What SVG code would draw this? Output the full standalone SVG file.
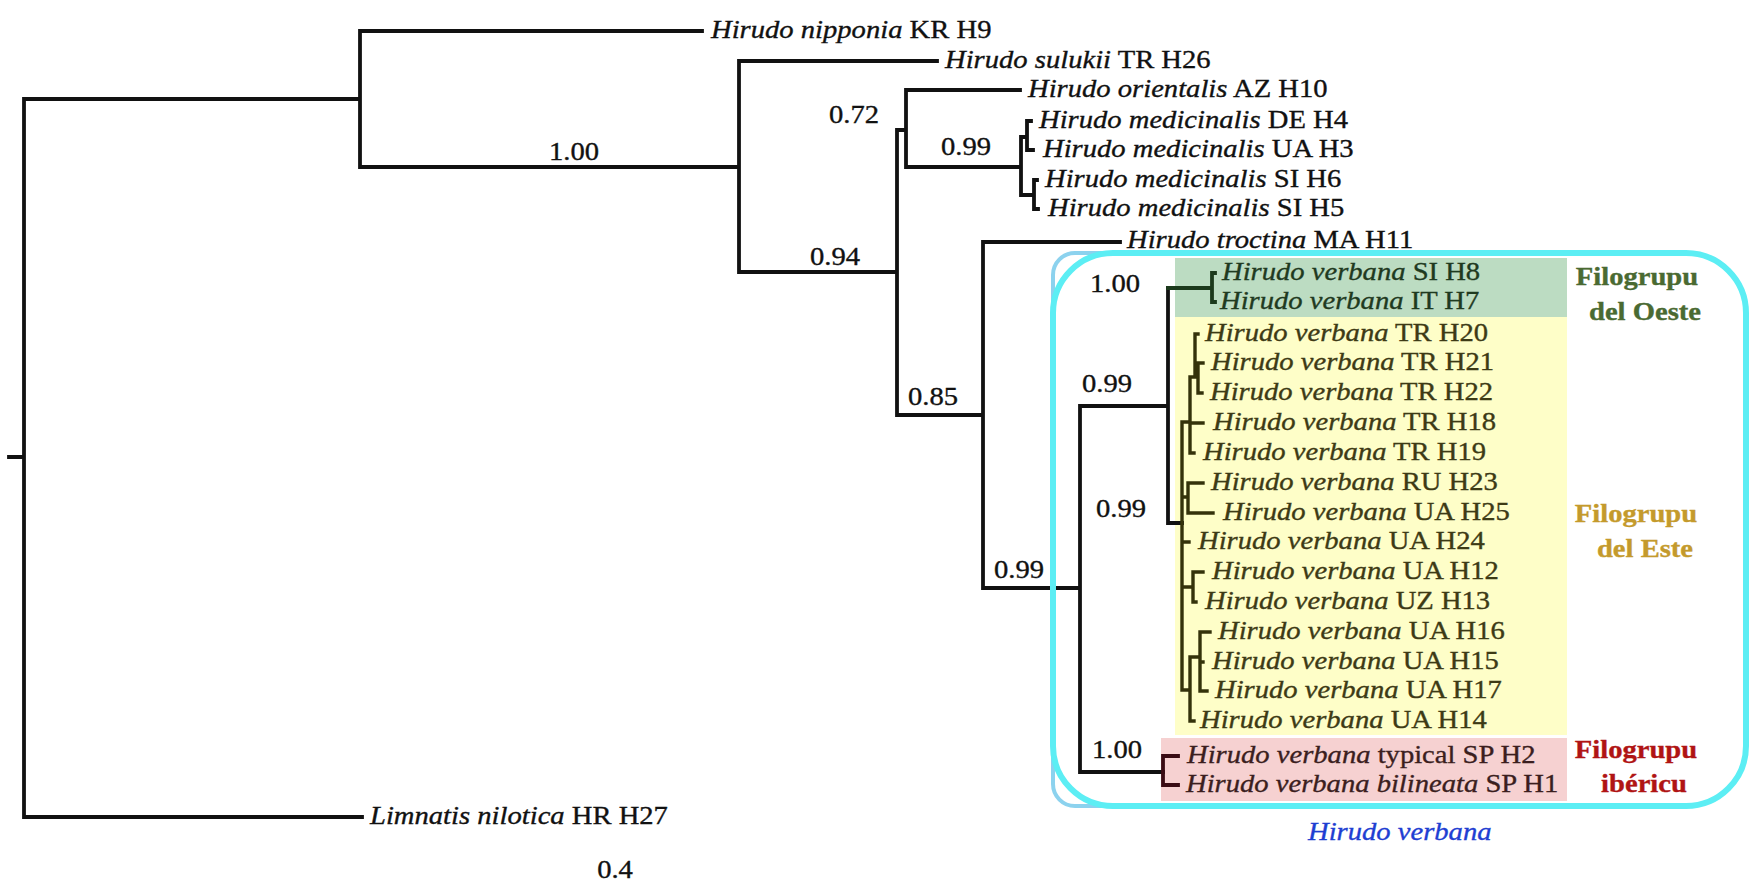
<svg xmlns="http://www.w3.org/2000/svg" width="1749" height="886" viewBox="0 0 1749 886">
<style>
.t{font-family:"Liberation Serif","Times New Roman",serif;font-size:26px;fill:#111;stroke:#111;stroke-width:0.35}
.i{font-style:italic}
.n{text-anchor:middle}
.b{font-weight:bold;text-anchor:middle}
.br{fill:none;stroke:#111;stroke-width:3.8;stroke-linecap:square}
.gr{stroke:#1c3a1c}
.ol{stroke:#34320a;stroke-width:3.4}
.mr{stroke:#3a0c14}
.tg{fill:#1f3a1f;stroke:#1f3a1f}
.ty{fill:#3d3a15;stroke:#3d3a15}
.tp{fill:#3b1e1e;stroke:#3b1e1e}
.go{fill:#4a6a32;stroke:#4a6a32}
.ge{fill:#c49a2c;stroke:#c49a2c}
.gi{fill:#b01414;stroke:#b01414}
.gb{fill:#1e3ed2;stroke:#1e3ed2}
</style>
<rect x="0" y="0" width="1749" height="886" fill="#ffffff"/>
<g id="bg-boxes">
<rect x="1175" y="258" width="392" height="59" fill="#bcdcc2"/>
<rect x="1175" y="317" width="392" height="418" fill="#fefec8"/>
<rect x="1161" y="738" width="406" height="63" fill="#f6d1d1"/>
</g>
<g id="connectors">
<path class="br" d="M9,457 H24 M24,99 V817 M24,99 H360 M24,817 H362 M360,31 V167 M360,31 H702 M360,167 H739 M739,61 V272 M739,61 H937 M739,272 H897 M897,130 V415 M897,130 H906 M906,90 V167 M906,90 H1020 M906,167 H1021 M1021,137 V195 M1021,137 H1027 M1027,121 V150 M1027,121 H1031 M1027,150 H1033 M1021,195 H1034 M1034,180 V209 M1034,180 H1037 M1034,209 H1038 M897,415 H983 M983,242 V588 M983,242 H1120 M983,588 H1080 M1080,406 V772 M1080,406 H1168 M1080,772 H1163 M1168,288 V523 M1168,523 H1182"/>
<path class="br gr" d="M1168,288 H1212 M1212,273 V302 M1212,273 H1215 M1212,302 H1215"/>
<path class="br mr" d="M1163,756 V785 M1163,756 H1178 M1163,785 H1178"/>
<path class="br ol" d="M1182,422 V690 M1182,422 H1190 M1190,377 V453 M1190,453 H1194 M1190,423 H1203 M1190,377 H1195 M1195,334 V377 M1195,334 H1198 M1195,377 H1198 M1198,363 V393 M1198,363 H1203 M1198,393 H1202 M1182,497 H1188 M1188,483 V513 M1188,483 H1203 M1188,513 H1213 M1182,542 H1189 M1182,587 H1193 M1193,572 V602 M1193,572 H1203 M1193,602 H1196 M1182,690 H1190 M1190,657 V721 M1190,721 H1194 M1190,657 H1200 M1200,632 V691 M1200,632 H1210 M1200,662 H1203 M1200,691 H1207"/>
</g>
<g id="clade-outline">
<path d="M1140,253 H1075 A22,22 0 0 0 1053,275 V784 A22,22 0 0 0 1075,806 H1140" fill="none" stroke="#8cd2ee" stroke-width="4"/>
<rect x="1053" y="253" width="693" height="553" rx="60" ry="60" fill="none" stroke="#5ceef4" stroke-width="6"/>
</g>
<g id="support">
<text class="t n" transform="translate(574,160) scale(1.1,1)">1.00</text>
<text class="t n" transform="translate(835,265) scale(1.1,1)">0.94</text>
<text class="t n" transform="translate(854,123) scale(1.1,1)">0.72</text>
<text class="t n" transform="translate(966,155) scale(1.1,1)">0.99</text>
<text class="t n" transform="translate(933,405) scale(1.1,1)">0.85</text>
<text class="t n" transform="translate(1019,578) scale(1.1,1)">0.99</text>
<text class="t n" transform="translate(1107,392) scale(1.1,1)">0.99</text>
<text class="t n" transform="translate(1115,292) scale(1.1,1)">1.00</text>
<text class="t n" transform="translate(1121,517) scale(1.1,1)">0.99</text>
<text class="t n" transform="translate(1117,758) scale(1.1,1)">1.00</text>
</g>
<g id="leaf-H9"><text class="t" transform="translate(711,38) scale(1.1,1)"><tspan class="i">Hirudo nipponia</tspan> KR H9</text></g>
<g id="leaf-H26"><text class="t" transform="translate(945,68) scale(1.1,1)"><tspan class="i">Hirudo sulukii</tspan> TR H26</text></g>
<g id="leaf-H10"><text class="t" transform="translate(1028,97) scale(1.1,1)"><tspan class="i">Hirudo orientalis</tspan> AZ H10</text></g>
<g id="leaf-H4"><text class="t" transform="translate(1039,128) scale(1.1,1)"><tspan class="i">Hirudo medicinalis</tspan> DE H4</text></g>
<g id="leaf-H3"><text class="t" transform="translate(1043,157) scale(1.1,1)"><tspan class="i">Hirudo medicinalis</tspan> UA H3</text></g>
<g id="leaf-H6"><text class="t" transform="translate(1045,187) scale(1.1,1)"><tspan class="i">Hirudo medicinalis</tspan> SI H6</text></g>
<g id="leaf-H5"><text class="t" transform="translate(1048,216) scale(1.1,1)"><tspan class="i">Hirudo medicinalis</tspan> SI H5</text></g>
<g id="leaf-H11"><text class="t" transform="translate(1127,248) scale(1.1,1)"><tspan class="i">Hirudo troctina</tspan> MA H11</text></g>
<g id="leaf-H8"><text class="t tg" transform="translate(1222,280) scale(1.1,1)"><tspan class="i">Hirudo verbana</tspan> SI H8</text></g>
<g id="leaf-H7"><text class="t tg" transform="translate(1220,309) scale(1.1,1)"><tspan class="i">Hirudo verbana</tspan> IT H7</text></g>
<g id="leaf-H20"><text class="t ty" transform="translate(1205,341) scale(1.1,1)"><tspan class="i">Hirudo verbana</tspan> TR H20</text></g>
<g id="leaf-H21"><text class="t ty" transform="translate(1211,370) scale(1.1,1)"><tspan class="i">Hirudo verbana</tspan> TR H21</text></g>
<g id="leaf-H22"><text class="t ty" transform="translate(1210,400) scale(1.1,1)"><tspan class="i">Hirudo verbana</tspan> TR H22</text></g>
<g id="leaf-H18"><text class="t ty" transform="translate(1213,430) scale(1.1,1)"><tspan class="i">Hirudo verbana</tspan> TR H18</text></g>
<g id="leaf-H19"><text class="t ty" transform="translate(1203,460) scale(1.1,1)"><tspan class="i">Hirudo verbana</tspan> TR H19</text></g>
<g id="leaf-H23"><text class="t ty" transform="translate(1211,490) scale(1.1,1)"><tspan class="i">Hirudo verbana</tspan> RU H23</text></g>
<g id="leaf-H25"><text class="t ty" transform="translate(1223,520) scale(1.1,1)"><tspan class="i">Hirudo verbana</tspan> UA H25</text></g>
<g id="leaf-H24"><text class="t ty" transform="translate(1198,549) scale(1.1,1)"><tspan class="i">Hirudo verbana</tspan> UA H24</text></g>
<g id="leaf-H12"><text class="t ty" transform="translate(1212,579) scale(1.1,1)"><tspan class="i">Hirudo verbana</tspan> UA H12</text></g>
<g id="leaf-H13"><text class="t ty" transform="translate(1205,609) scale(1.1,1)"><tspan class="i">Hirudo verbana</tspan> UZ H13</text></g>
<g id="leaf-H16"><text class="t ty" transform="translate(1218,639) scale(1.1,1)"><tspan class="i">Hirudo verbana</tspan> UA H16</text></g>
<g id="leaf-H15"><text class="t ty" transform="translate(1212,669) scale(1.1,1)"><tspan class="i">Hirudo verbana</tspan> UA H15</text></g>
<g id="leaf-H17"><text class="t ty" transform="translate(1215,698) scale(1.1,1)"><tspan class="i">Hirudo verbana</tspan> UA H17</text></g>
<g id="leaf-H14"><text class="t ty" transform="translate(1200,728) scale(1.1,1)"><tspan class="i">Hirudo verbana</tspan> UA H14</text></g>
<g id="leaf-H2"><text class="t tp" transform="translate(1187,763) scale(1.1,1)"><tspan class="i">Hirudo verbana</tspan> typical SP H2</text></g>
<g id="leaf-H1"><text class="t tp" transform="translate(1186,792) scale(1.1,1)"><tspan class="i">Hirudo verbana bilineata</tspan> SP H1</text></g>
<g id="leaf-H27"><text class="t" transform="translate(370,824) scale(1.1,1)"><tspan class="i">Limnatis nilotica</tspan> HR H27</text></g>
<g id="group-oeste">
<text class="t b go" transform="translate(1637,285) scale(1.1,1)">Filogrupu</text>
<text class="t b go" transform="translate(1645,320) scale(1.1,1)">del Oeste</text>
</g>
<g id="group-este">
<text class="t b ge" transform="translate(1636,522) scale(1.1,1)">Filogrupu</text>
<text class="t b ge" transform="translate(1645,557) scale(1.1,1)">del Este</text>
</g>
<g id="group-iberico">
<text class="t b gi" transform="translate(1636,758) scale(1.1,1)">Filogrupu</text>
<text class="t b gi" transform="translate(1644,792) scale(1.1,1)">ibéricu</text>
</g>
<g id="clade-label"><text class="t i gb" transform="translate(1308,840) scale(1.1,1)">Hirudo verbana</text></g>
<g id="scale"><text class="t n" transform="translate(615,878) scale(1.1,1)">0.4</text></g>
</svg>
